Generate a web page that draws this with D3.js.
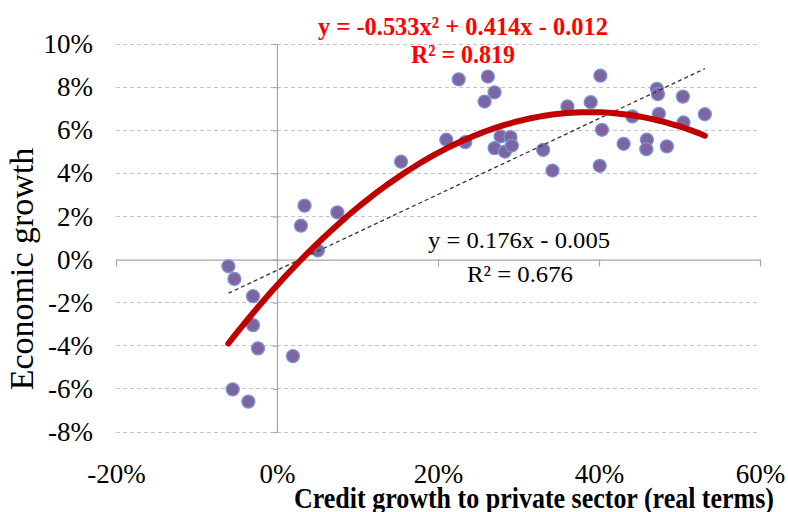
<!DOCTYPE html>
<html><head><meta charset="utf-8">
<script src="https://cdn.jsdelivr.net/npm/d3@7"></script>
<style>body{margin:0;background:#fff} svg{display:block}</style>
</head><body><svg id="c" width="788" height="512"></svg>
<script>
// Credit growth to private sector (real terms), as fractions
const creditGrowth = [
  0.0342, 0.0750, 0.0297, 0.0508, -0.0604, -0.0529, -0.0298, -0.0298, -0.0236, 0.0198, -0.0550, -0.0356,
  0.1541, 0.2257, 0.2620, 0.2703, 0.2579, 0.2103, 0.2339, 0.2777, 0.2901, 0.2703, 0.2831, 0.2918, 0.3306, 0.3422,
  0.3608, 0.3897, 0.4017, 0.4037, 0.4009, 0.4306, 0.4414, 0.4595, 0.4588, 0.4719, 0.4732, 0.4744, 0.4843, 0.5042, 0.5050, 0.5315
];
// Economic growth, as fractions
const econGrowth = [
  0.0250, 0.0219, 0.0157, 0.0042, -0.0031, -0.0090, -0.0170, -0.0304, -0.0412, -0.0448, -0.0602, -0.0659,
  0.0454, 0.0836, 0.0849, 0.0776, 0.0733, 0.0556, 0.0545, 0.0571, 0.0568, 0.0517, 0.0501, 0.0529, 0.0509, 0.0413,
  0.0710, 0.0730, 0.0853, 0.0602, 0.0435, 0.0537, 0.0664, 0.0556, 0.0512, 0.0792, 0.0767, 0.0676, 0.0525, 0.0756, 0.0636, 0.0674
];
const xTicks = [-0.2, 0, 0.2, 0.4, 0.6];
const yTicks = [-0.08, -0.06, -0.04, -0.02, 0, 0.02, 0.04, 0.06, 0.08, 0.10];
const polyCoef = [-0.533, 0.414, -0.012];   // a x^2 + b x + c
const linCoef = [0.176, -0.005];            // m x + k
const polyLabels = ["y = -0.533x² + 0.414x - 0.012", "R² = 0.819"];
const linLabels = ["y = 0.176x - 0.005", "R² = 0.676"];
const xTitle = "Credit growth to private sector (real terms)";
const yTitle = "Economic growth";

const svg = d3.select("#c");
const FONT = "'Liberation Serif','Times New Roman',serif";
const x = d3.scaleLinear().domain([-0.2, 0.6]).range([116, 760]);
const y = d3.scaleLinear().domain([-0.08, 0.10]).range([432, 44]);
const pct = d => Math.round(d * 100) + "%";

// gridlines
svg.append("g").selectAll("line").data(yTicks.filter(d => d !== 0)).join("line")
  .attr("x1", x.range()[0]).attr("x2", x.range()[1])
  .attr("y1", d => y(d)).attr("y2", d => y(d))
  .attr("stroke", "#c4c4c4").attr("stroke-width", 1).attr("stroke-dasharray", "4,3")
  .attr("shape-rendering", "crispEdges");

// y axis
const yAx = svg.append("g").attr("transform", `translate(${x(0)},0)`)
  .call(d3.axisLeft(y).tickValues(yTicks).tickSize(4).tickSizeOuter(0)
    .tickPadding(x(0) - 93 - 4).tickFormat(pct));
// x axis
const xAx = svg.append("g").attr("transform", `translate(0,${y(0)})`)
  .call(d3.axisBottom(x).tickValues(xTicks).tickSize(7).tickSizeOuter(0)
    .tickPadding(483 - y(0) - 7 - 0.71 * 27).tickFormat(pct));
[yAx, xAx].forEach(g => {
  g.select(".domain").attr("stroke", "#a6a6a6").attr("stroke-width", 1.2);
  g.selectAll(".tick line").attr("stroke", "#a6a6a6").attr("stroke-width", 1.2);
  g.selectAll(".tick text").attr("font-family", FONT).attr("font-size", 27).attr("fill", "#000");
});

// points
const pts = creditGrowth.map((v, i) => [v, econGrowth[i]]);
svg.append("g").selectAll("circle").data(pts).join("circle")
  .attr("cx", d => x(d[0])).attr("cy", d => y(d[1])).attr("r", 6.5)
  .attr("fill", "#8064A2").attr("stroke", "#7497d6").attr("stroke-width", 1.3);

// trendlines
const xmin = d3.min(creditGrowth), xmax = d3.max(creditGrowth);
const xs = d3.range(0, 101).map(i => xmin + (xmax - xmin) * i / 100);
svg.append("path")
  .attr("d", d3.line().x(d => x(d)).y(d => y(linCoef[0] * d + linCoef[1]))([xmin, xmax]))
  .attr("fill", "none").attr("stroke", "#333").attr("stroke-width", 1.3).attr("stroke-dasharray", "4,3");
svg.append("path")
  .attr("d", d3.line().x(d => x(d)).y(d => y(polyCoef[0] * d * d + polyCoef[1] * d + polyCoef[2]))(xs))
  .attr("fill", "none").attr("stroke", "#C00000").attr("stroke-width", 6).attr("stroke-linecap", "round");

function label(txt, cx, by, size, opts) {
  const t = svg.append("text").text(txt).attr("x", cx).attr("y", by)
    .attr("text-anchor", "middle").attr("font-family", FONT).attr("font-size", size)
    .attr("fill", opts.fill || "#000").attr("font-weight", opts.bold ? "bold" : "normal");
  if (opts.width) t.attr("textLength", opts.width).attr("lengthAdjust", "spacingAndGlyphs");
  return t;
}
label(polyLabels[0], 463, 35, 26, {fill: "#ff0000", bold: true, width: 290});
label(polyLabels[1], 463, 63, 26, {fill: "#ff0000", bold: true, width: 104});
label(linLabels[0], 519, 248, 24, {width: 182});
label(linLabels[1], 520, 281.5, 23, {width: 106});
label(xTitle, 534, 508, 30, {bold: true, width: 480});
svg.append("text").text(yTitle)
  .attr("transform", `translate(33,269) rotate(-90)`)
  .attr("text-anchor", "middle").attr("font-family", FONT).attr("font-size", 34).attr("fill", "#000");
</script></body></html>
